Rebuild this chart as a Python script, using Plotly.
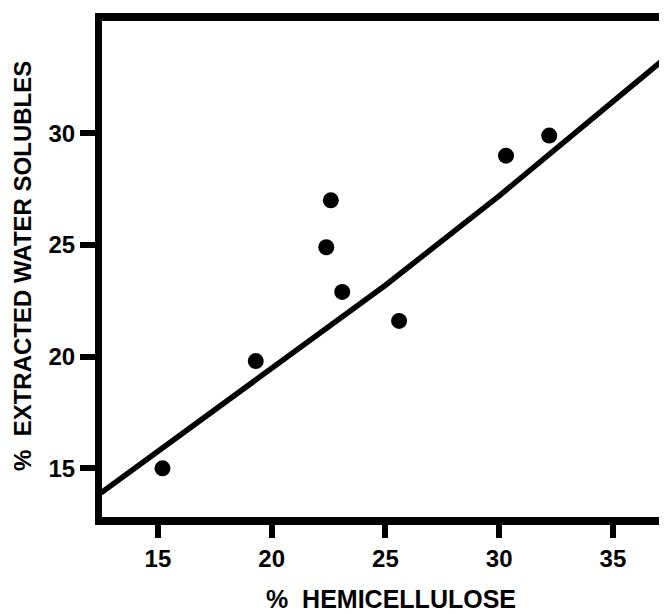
import plotly.graph_objects as go

# data
hemicellulose = [15.2, 19.3, 22.4, 22.6, 23.1, 25.6, 30.3, 32.2]
water_solubles = [15.0, 19.8, 24.9, 27.0, 22.9, 21.6, 29.0, 29.9]

fit_x = [12.5, 20.0, 25.0, 30.0, 37.4]
fit_y = [13.9, 19.5, 23.2, 27.2, 33.45]

x_ticks = [15, 20, 25, 30, 35]
y_ticks = [15, 20, 25, 30]

FONT = "Liberation Sans, Arial, sans-serif"

fig = go.Figure()
fig.add_trace(go.Scatter(x=fit_x, y=fit_y, mode="lines",
                         line=dict(color="black", width=5.5), showlegend=False))
fig.add_trace(go.Scatter(x=hemicellulose, y=water_solubles, mode="markers",
                         marker=dict(color="black", size=16), showlegend=False))

# page body has an 8px margin, so the figure is laid out 8px smaller
W, H = 659, 606
L, R, T, B = 94, 7, 13, 97
fig.update_layout(
    width=W, height=H,
    margin=dict(l=L, r=R, t=T, b=B, autoexpand=False),
    paper_bgcolor="white", plot_bgcolor="white",
    font=dict(family=FONT, color="black", size=24, weight="bold"),
    showlegend=False,
)
fig.update_xaxes(range=[12.54, 37.07], tickvals=x_ticks, ticktext=[str(v) for v in x_ticks],
                 showgrid=False, zeroline=False,
                 showline=True, linecolor="black", linewidth=8, mirror=True,
                 ticks="outside", ticklen=13, tickwidth=6, tickcolor="black",
                 tickfont=dict(size=24, family=FONT, weight="bold"))
fig.update_yaxes(range=[12.82, 35.03], tickvals=y_ticks, ticktext=[str(v) for v in y_ticks],
                 showgrid=False, zeroline=False,
                 showline=True, linecolor="black", linewidth=7, mirror=True,
                 ticks="outside", ticklen=15, tickwidth=6, tickcolor="black",
                 tickfont=dict(size=24, family=FONT, weight="bold"))

pw = W - L - R
ph = H - T - B
OX, OY = 8, 8
fig.add_annotation(text="%  HEMICELLULOSE", xref="paper", yref="paper",
                   x=(391 - OX - L) / pw, y=(H - B - (599 - OY)) / ph, showarrow=False,
                   xanchor="center", yanchor="middle",
                   font=dict(size=25, family=FONT, color="black", weight="bold"))
fig.add_annotation(text="%  EXTRACTED WATER SOLUBLES", xref="paper", yref="paper",
                   x=(22 - OX - L) / pw, y=(H - B - (266 - OY)) / ph, showarrow=False,
                   xanchor="center", yanchor="middle", textangle=-90,
                   font=dict(size=24, family=FONT, color="black", weight="bold"))

fig.write_html("out.html")
